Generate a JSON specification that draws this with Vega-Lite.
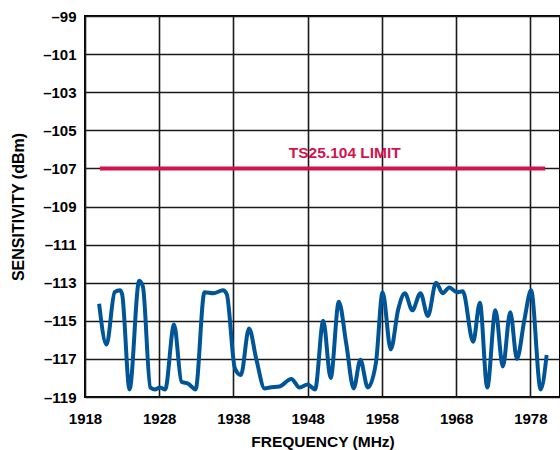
{
  "$schema": "https://vega.github.io/schema/vega-lite/v6.json",
  "width": 475,
  "height": 381,
  "autosize": {"type": "none"},
  "padding": {"left": 85, "top": 16, "right": 0, "bottom": 53},
  "background": "white",
  "config": {
    "view": {"stroke": "#000", "strokeWidth": 2},
    "font": "Liberation Sans",
    "axis": {
      "labelFont": "Liberation Sans",
      "labelFontWeight": "bold",
      "labelFontSize": 15,
      "labelColor": "#000",
      "labelOverlap": false,
      "titleFont": "Liberation Sans",
      "titleFontWeight": "bold",
      "titleFontSize": 15.5,
      "titleColor": "#000",
      "ticks": false,
      "domain": false,
      "gridColor": "#1a1a1a",
      "gridWidth": 1.6,
      "gridOpacity": 1
    }
  },
  "datasets": {
    "curve": [
      {"f": 1919.9, "v": -114.1},
      {"f": 1920.9, "v": -116.25},
      {"f": 1922.0, "v": -113.5},
      {"f": 1922.7, "v": -113.4},
      {"f": 1923.0, "v": -113.6},
      {"f": 1924.0, "v": -118.6},
      {"f": 1925.3, "v": -112.9},
      {"f": 1925.8, "v": -113.2},
      {"f": 1926.8, "v": -118.5},
      {"f": 1927.4, "v": -118.6},
      {"f": 1928.1, "v": -118.5},
      {"f": 1928.8, "v": -118.6},
      {"f": 1930.0, "v": -115.2},
      {"f": 1931.0, "v": -118.2},
      {"f": 1931.9, "v": -118.3},
      {"f": 1932.9, "v": -118.6},
      {"f": 1934.1, "v": -113.5},
      {"f": 1935.3, "v": -113.55},
      {"f": 1936.6, "v": -113.4},
      {"f": 1937.1, "v": -113.6},
      {"f": 1938.2, "v": -117.5},
      {"f": 1939.0, "v": -117.85},
      {"f": 1940.1, "v": -115.4},
      {"f": 1941.1, "v": -117.05},
      {"f": 1942.2, "v": -118.55},
      {"f": 1942.9, "v": -118.5},
      {"f": 1944.2, "v": -118.45},
      {"f": 1945.8, "v": -118.05},
      {"f": 1946.9, "v": -118.5},
      {"f": 1948.0, "v": -118.35},
      {"f": 1949.0, "v": -118.6},
      {"f": 1950.1, "v": -115.0},
      {"f": 1951.1, "v": -118.0},
      {"f": 1952.2, "v": -114.0},
      {"f": 1953.2, "v": -116.2},
      {"f": 1954.2, "v": -118.55},
      {"f": 1955.1, "v": -117.05},
      {"f": 1956.1, "v": -118.5},
      {"f": 1957.2, "v": -117.2},
      {"f": 1958.1, "v": -113.5},
      {"f": 1959.2, "v": -116.5},
      {"f": 1960.2, "v": -114.4},
      {"f": 1961.1, "v": -113.55},
      {"f": 1962.1, "v": -114.45},
      {"f": 1963.2, "v": -113.55},
      {"f": 1964.2, "v": -114.75},
      {"f": 1965.3, "v": -113.0},
      {"f": 1966.2, "v": -113.55},
      {"f": 1967.1, "v": -113.25},
      {"f": 1968.1, "v": -113.5},
      {"f": 1968.9, "v": -113.45},
      {"f": 1970.3, "v": -116.1},
      {"f": 1971.2, "v": -114.05},
      {"f": 1972.2, "v": -118.5},
      {"f": 1973.3, "v": -114.45},
      {"f": 1974.3, "v": -117.4},
      {"f": 1975.3, "v": -114.55},
      {"f": 1976.2, "v": -117.0},
      {"f": 1977.2, "v": -114.95},
      {"f": 1978.1, "v": -113.4},
      {"f": 1979.4, "v": -118.6},
      {"f": 1980.2, "v": -116.8}
    ],
    "limit": [{"f1": 1920, "f2": 1980, "v": -107}],
    "label": [{"f": 1953, "v": -106.2, "text": "TS25.104 LIMIT"}]
  },
  "layer": [
    {
      "data": {"name": "curve"},
      "mark": {"type": "line", "interpolate": "monotone", "color": "#005598", "strokeWidth": 4, "clip": true},
      "encoding": {
        "x": {
          "field": "f", "type": "quantitative",
          "scale": {"domain": [1918, 1982], "nice": false, "zero": false},
          "axis": {
            "values": [1918, 1928, 1938, 1948, 1958, 1968, 1978],
            "tickCount": 20,
            "format": "d",
            "title": "FREQUENCY (MHz)",
            "labelPadding": 14,
            "titlePadding": 8,
            "labelFlush": false
          }
        },
        "y": {
          "field": "v", "type": "quantitative",
          "scale": {"domain": [-119, -99], "nice": false, "zero": false},
          "axis": {
            "values": [-119, -117, -115, -113, -111, -109, -107, -105, -103, -101, -99],
            "tickCount": 20,
            "labelExpr": "replace(format(datum.value, 'd'), '−', '–')",
            "title": "SENSITIVITY (dBm)",
            "titleFontSize": 16,
            "labelPadding": 9,
            "titlePadding": 16,
            "labelFlush": false
          }
        }
      }
    },
    {
      "data": {"name": "limit"},
      "mark": {"type": "rule", "color": "#D3124E", "strokeWidth": 4},
      "encoding": {
        "x": {"field": "f1", "type": "quantitative"},
        "x2": {"field": "f2"},
        "y": {"field": "v", "type": "quantitative"}
      }
    },
    {
      "data": {"name": "label"},
      "mark": {"type": "text", "color": "#D3124E", "font": "Liberation Sans", "fontWeight": "bold", "fontSize": 15.5, "align": "center", "baseline": "middle"},
      "encoding": {
        "x": {"field": "f", "type": "quantitative"},
        "y": {"field": "v", "type": "quantitative"},
        "text": {"field": "text"}
      }
    }
  ]
}
